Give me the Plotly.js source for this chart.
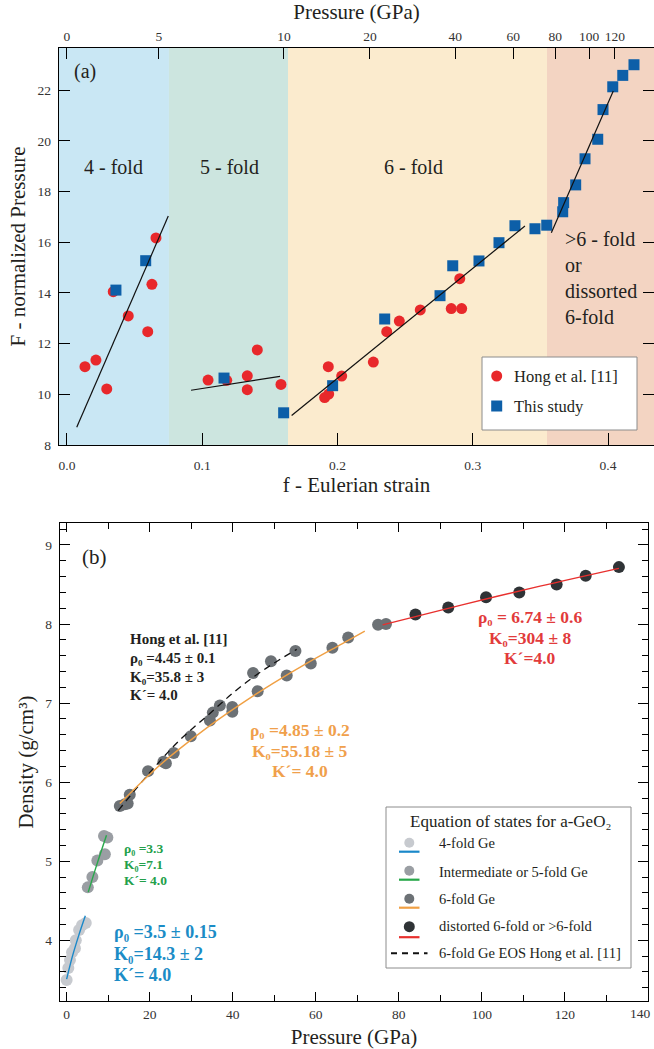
<!DOCTYPE html>
<html><head><meta charset="utf-8">
<script src="https://cdn.plot.ly/plotly-3.0.1.min.js"></script>
<style>html,body{margin:0;padding:0;background:#fff}#chart{width:654px;height:1049px}</style>
</head><body><div id="chart"></div>
<script>
// ---------- Panel (a): F-f plot ----------
const hongStrain = [0.0133, 0.0214, 0.0294, 0.0342, 0.0453, 0.0597, 0.0628, 0.0658,
  0.1043, 0.1181, 0.1333, 0.1333, 0.1407, 0.1582,
  0.1905, 0.1935, 0.1932, 0.2031, 0.2265, 0.2364, 0.2457, 0.2612, 0.2841, 0.2918, 0.2904];
const hongF = [11.09, 11.35, 10.21, 14.05, 13.09, 12.47, 14.34, 16.17,
  10.56, 10.55, 10.73, 10.18, 11.75, 10.39,
  9.87, 10.01, 11.09, 10.72, 11.27, 12.47, 12.89, 13.33, 13.38, 13.38, 14.56];
const thisStrain = [0.0362, 0.0582, 0.1161, 0.1602, 0.1964, 0.2349, 0.2758, 0.2852, 0.3046,
  0.3194, 0.3312, 0.3460, 0.3547, 0.3665, 0.3672, 0.3761, 0.3830, 0.3924, 0.3963, 0.4035, 0.4109, 0.4192];
const thisF = [14.11, 15.27, 10.64, 9.27, 10.34, 12.97, 13.89, 15.07, 15.26,
  15.98, 16.65, 16.53, 16.67, 17.20, 17.56, 18.26, 19.29, 20.06, 21.23, 22.13, 22.58, 23.00];
const fit4Strain = [0.0072, 0.0749], fit4F = [8.70, 17.03];
const fit5Strain = [0.0917, 0.1575], fit5F = [10.16, 10.71];
const fit6Strain = [0.1661, 0.3386], fit6F = [9.16, 16.64];
const fit7Strain = [0.3581, 0.4039], fit7F = [16.37, 21.96];
const bandEdges = [-0.0059, 0.0754, 0.1634, 0.3549, 0.434];
const bandColors = ['#c9e7f4', '#cce5df', '#fbebce', '#f3d4c2'];
const bandLabels = ['4 - fold', '5 - fold', '6 - fold', '>6 - fold<br>or<br>dissorted<br>6-fold'];
const topTickStrain = [0, 0.068, 0.1604, 0.224, 0.287, 0.330, 0.361, 0.386, 0.405];
const topTickPressure = ['0', '5', '10', '20', '40', '60', '80', '100', '120'];

// ---------- Panel (b): density vs pressure ----------
const p4 = [0.0, 0.4, 0.8, 1.3, 2.0, 2.2, 3.0, 3.7, 4.6];
const rho4 = [3.50, 3.65, 3.75, 3.85, 3.90, 4.00, 4.13, 4.19, 4.22];
const p5 = [5.1, 6.2, 7.4, 9.2, 9.0, 9.8];
const rho5 = [4.67, 4.80, 5.01, 5.09, 5.32, 5.30];
const p6 = [12.8, 14.0, 14.7, 15.2, 19.6, 23.3, 23.9, 25.8, 29.9, 34.5, 35.2, 36.9, 39.9, 39.9,
  44.9, 46.0, 49.2, 53.0, 55.1, 58.8, 64.0, 67.8, 75.0, 76.9];
const rho6 = [5.70, 5.72, 5.73, 5.84, 6.14, 6.26, 6.24, 6.37, 6.58, 6.78, 6.88, 6.97, 6.95, 6.89,
  7.38, 7.15, 7.53, 7.35, 7.66, 7.50, 7.70, 7.83, 7.99, 8.00];
const p7 = [84.0, 91.9, 101.0, 109.0, 118.0, 125.0, 133.0];
const rho7 = [8.12, 8.21, 8.34, 8.40, 8.50, 8.61, 8.72];
const fitBlueP = [0, 1.4, 2.9, 4.5], fitBlueRho = [3.51, 3.80, 4.06, 4.31];
const fitGreenP = [5.2, 7.4, 9.6], fitGreenRho = [4.61, 4.98, 5.33];
const fitOrangeP = [12.8, 18.0, 23.2, 29.1, 35.4, 42.3, 49.7, 57.7, 66.3, 71.8];
const fitOrangeRho = [5.73, 6.0, 6.25, 6.5, 6.75, 7.0, 7.25, 7.5, 7.75, 7.91];
const fitHongP = [12.4, 20.0, 27.0, 34.5, 41.0, 48.0, 55.4];
const fitHongRho = [5.64, 6.12, 6.52, 6.87, 7.17, 7.44, 7.68];
const fitRedP = [76.1, 95.0, 114.0, 133.0], fitRedRho = [7.99, 8.24, 8.48, 8.705];
const pressureMax = 140;

const legendBLabels = ['4-fold Ge', 'Intermediate or 5-fold Ge', '6-fold Ge', 'distorted 6-fold or >6-fold', '6-fold Ge EOS Hong et al. [11]'];

const FONT = '"Liberation Serif", "Times New Roman", Times, serif';
const C = {red: '#e8282b', blue: '#0d5fa8', g4: '#c7cacf', g5: '#9a9ea3', g6: '#6c7175', g7: '#2f3336',
  lBlue: '#1a88c9', lGreen: '#27a84a', lOrange: '#f0a044', lRed: '#e8302e',
  tBlue: '#1b8cc6', tGreen: '#22a04a', tOrange: '#f0a04b', tRed: '#e23b3b'};

// pixel -> paper helpers (margins l=59, t=48, b=48, r=0)
const PW = 595, PH = 953;
const px = x => (x - 59) / PW;
const py = y => (1001 - y) / PH;

const traces = [];
function line(x, y, xa, ya, color, width, dash, shape) {
  traces.push({x, y, xaxis: xa, yaxis: ya, mode: 'lines', hoverinfo: 'skip', showlegend: false,
    line: {color, width, dash: dash || 'solid', shape: shape || 'linear'}});
}
function pts(x, y, xa, ya, color, symbol, size) {
  traces.push({x, y, xaxis: xa, yaxis: ya, mode: 'markers', hoverinfo: 'skip', showlegend: false,
    marker: {color, symbol, size, line: {width: 0}}});
}
// (a)
pts(hongStrain, hongF, 'x', 'y', C.red, 'circle', 11);
pts(thisStrain, thisF, 'x', 'y', C.blue, 'square', 11);
line(fit4Strain, fit4F, 'x', 'y', '#111', 1.2);
line(fit5Strain, fit5F, 'x', 'y', '#111', 1.2);
line(fit6Strain, fit6F, 'x', 'y', '#111', 1.2);
line(fit7Strain, fit7F, 'x', 'y', '#111', 1.2);
traces.push({x: topTickStrain, y: topTickStrain.map(() => null), xaxis: 'x2', yaxis: 'y', mode: 'markers',
  showlegend: false, hoverinfo: 'skip'});
// (b)
pts(p4, rho4, 'x3', 'y3', C.g4, 'circle', 12);
pts(p5, rho5, 'x3', 'y3', C.g5, 'circle', 12);
pts(p6, rho6, 'x3', 'y3', C.g6, 'circle', 12);
pts(p7, rho7, 'x3', 'y3', C.g7, 'circle', 12);
line(fitBlueP, fitBlueRho, 'x3', 'y3', C.lBlue, 1.4, 'solid', 'spline');
line(fitGreenP, fitGreenRho, 'x3', 'y3', C.lGreen, 1.4, 'solid', 'spline');
line(fitHongP, fitHongRho, 'x3', 'y3', '#111', 1.3, '7px,5px', 'spline');
line(fitOrangeP, fitOrangeRho, 'x3', 'y3', C.lOrange, 1.4, 'solid', 'spline');
line(fitRedP, fitRedRho, 'x3', 'y3', C.lRed, 1.4, 'solid', 'spline');

const shapes = [];
for (let i = 0; i < bandColors.length; i++) {
  shapes.push({type: 'rect', xref: 'x', yref: 'y domain', x0: bandEdges[i], x1: bandEdges[i + 1], y0: 0, y1: 1,
    fillcolor: bandColors[i], line: {width: 0}, layer: 'below'});
}
const annotations = [];
function txt(text, x, y, xref, yref, size, opts) {
  annotations.push(Object.assign({text, x, y, xref, yref, showarrow: false,
    font: {family: FONT, size, color: '#231f20'}, xanchor: 'center', yanchor: 'middle'}, opts || {}));
}
// (a) labels
const fA = p => (p - 67) / 1352.5, FA = q => 8 + (445 - q) / 25.35;
txt('(a)', fA(85), FA(72), 'x', 'y', 20);
txt(bandLabels[0], fA(114), FA(167), 'x', 'y', 20);
txt(bandLabels[1], fA(230), FA(167), 'x', 'y', 20);
txt(bandLabels[2], fA(413), FA(167), 'x', 'y', 20);
txt(bandLabels[3], fA(563), FA(278), 'x', 'y', 20, {xanchor: 'left', align: 'left'});
// legend (a)
shapes.push({type: 'rect', xref: 'paper', yref: 'paper', x0: px(482), x1: px(637), y0: py(430), y1: py(357),
  fillcolor: '#ffffff', line: {color: '#8c8c8c', width: 1}});
shapes.push({type: 'circle', xref: 'paper', yref: 'paper', x0: px(491.2), x1: px(502.2), y0: py(381.5), y1: py(370.5),
  fillcolor: C.red, line: {width: 0}});
shapes.push({type: 'rect', xref: 'paper', yref: 'paper', x0: px(491.2), x1: px(502.2), y0: py(411.5), y1: py(400.5),
  fillcolor: C.blue, line: {width: 0}});
txt('Hong et al. [11]', px(512), py(376), 'paper', 'paper', 16.5, {xanchor: 'left'});
txt('This study', px(512), py(406), 'paper', 'paper', 16.5, {xanchor: 'left'});

// (b) labels
const PB = p => (p - 66.6) / 4.1525, RB = q => 4 + (940.3 - q) / 79.1;
txt('(b)', PB(94), RB(557), 'x3', 'y3', 21);
function block(lines, x, ys, size, color, anchor) {
  lines.forEach((l, i) => txt('<b>' + l + '</b>', PB(x), RB(ys[i]), 'x3', 'y3', size,
    {xanchor: anchor, font: {family: FONT, size, color}}));
}
block(['Hong et al. [11]', 'ρ₀ =4.45 ± 0.1', 'K₀=35.8 ± 3', 'K´= 4.0'],
  128, [639, 658, 677, 695], 15, '#231f20', 'left');
block(['ρ₀ =4.85 ± 0.2', 'K₀=55.18 ± 5', 'K´= 4.0'],
  300, [730, 751, 771], 17.5, C.tOrange, 'center');
block(['ρ₀ = 6.74 ± 0.6', 'K₀=304 ± 8', 'K´=4.0'],
  530, [617, 638, 658], 17.5, C.tRed, 'center');
block(['ρ₀ =3.3', 'K₀=7.1', 'K´= 4.0'],
  121.7, [848, 864, 880], 13.5, C.tGreen, 'left');
block(['ρ₀ =3.5 ± 0.15', 'K₀=14.3 ± 2', 'K´= 4.0'],
  112.3, [932, 954, 975], 18, C.tBlue, 'left');
// last bottom tick label of (b), kept inside the page edge
txt(String(pressureMax), pressureMax, py(1013.5), 'x3', 'paper', 13.5,
  {xanchor: 'right', xshift: 5, font: {family: FONT, size: 13.5, color: '#333'}});

// legend (b)
shapes.push({type: 'rect', xref: 'paper', yref: 'paper', x0: px(386), x1: px(631), y0: py(968), y1: py(807),
  fillcolor: '#ffffff', line: {color: '#8c8c8c', width: 1}});
txt('Equation of states for a-GeO₂', px(510), py(821), 'paper', 'paper', 17);
const legMarkColors = [C.g4, C.g5, C.g6, C.g7];
const legLineColors = [C.lBlue, C.lGreen, C.lOrange, C.lRed];
const legMarkY = [842.7, 870.7, 898.7, 926.7];
const legLineY = [851.7, 879.7, 907.7, 937.2];
const legTextY = [842.7, 871.7, 899.3, 926, 953.3];
for (let i = 0; i < 4; i++) {
  const r = i === 3 ? 5.5 : 5;
  shapes.push({type: 'circle', xref: 'paper', yref: 'paper', x0: px(409.3 - r), x1: px(409.3 + r),
    y0: py(legMarkY[i] + r), y1: py(legMarkY[i] - r), fillcolor: legMarkColors[i], line: {width: 0}});
  shapes.push({type: 'line', xref: 'paper', yref: 'paper', x0: px(399), x1: px(419.5),
    y0: py(legLineY[i]), y1: py(legLineY[i]), line: {color: legLineColors[i], width: 2.2}});
}
shapes.push({type: 'line', xref: 'paper', yref: 'paper', x0: px(391), x1: px(427.5), y0: py(953.3), y1: py(953.3),
  line: {color: '#111', width: 2, dash: '6px,5px'}});
legendBLabels.forEach((l, i) => txt(l, px(437), py(legTextY[i]), 'paper', 'paper', 14.5, {xanchor: 'left'}));

const tickFont = {family: FONT, size: 13.5, color: '#333'};
const titleFont = {family: FONT, size: 21, color: '#231f20'};
const axCommon = {showgrid: false, zeroline: false, showline: true, linecolor: '#000', linewidth: 1.4,
  ticks: 'inside', tickcolor: '#000', tickwidth: 1, tickfont: tickFont};

const layout = {
  width: 654, height: 1049, paper_bgcolor: '#ffffff', plot_bgcolor: 'rgba(0,0,0,0)',
  margin: {l: 59, r: 0, t: 48, b: 48}, showlegend: false,
  font: {family: FONT},
  xaxis: Object.assign({}, axCommon, {domain: [0, 1], anchor: 'y', range: [bandEdges[0], bandEdges[4]],
    tick0: 0, dtick: 0.1, tickformat: '.1f', ticklen: 12, mirror: true, ticklabelstandoff: 7,
    title: {text: 'f - Eulerian strain', font: titleFont, standoff: 2}}),
  xaxis2: Object.assign({}, axCommon, {overlaying: 'x', side: 'top', anchor: 'y', range: [bandEdges[0], bandEdges[4]],
    tickmode: 'array', tickvals: topTickStrain, ticktext: topTickPressure, ticklen: 11, showline: false,
    ticklabelstandoff: 3, title: {text: 'Pressure (GPa)', font: titleFont, standoff: 4}}),
  yaxis: Object.assign({}, axCommon, {domain: [(1001 - 445) / PH, 1], anchor: 'x', range: [8, 23.66],
    tick0: 8, dtick: 2, ticklen: 11, mirror: 'ticks', ticklabelstandoff: 4,
    title: {text: 'F - normalized Pressure', font: titleFont, standoff: 6}}),
  xaxis3: Object.assign({}, axCommon, {domain: [px(60), px(648)], anchor: 'y3', range: [-1.6, pressureMax],
    tick0: 0, dtick: 20, ticklen: 9, mirror: 'ticks', ticklabelstandoff: 0,
    minor: {dtick: 10, ticklen: 6, ticks: 'inside', tickcolor: '#000', tickwidth: 1},
    title: {text: 'Pressure (GPa)', font: titleFont, standoff: 8}}),
  yaxis3: Object.assign({}, axCommon, {domain: [0, (1001 - 523) / PH], anchor: 'x3', range: [3.233, 9.278],
    tick0: 4, dtick: 1, ticklen: 10, mirror: 'ticks', ticklabelstandoff: 4,
    minor: {dtick: 0.2, ticklen: 6, ticks: 'inside', tickcolor: '#000', tickwidth: 1},
    title: {text: 'Density (g/cm³)', font: titleFont, standoff: 6}}),
  shapes, annotations
};
Plotly.newPlot('chart', traces, layout, {displayModeBar: false, staticPlot: true});
</script></body></html>
